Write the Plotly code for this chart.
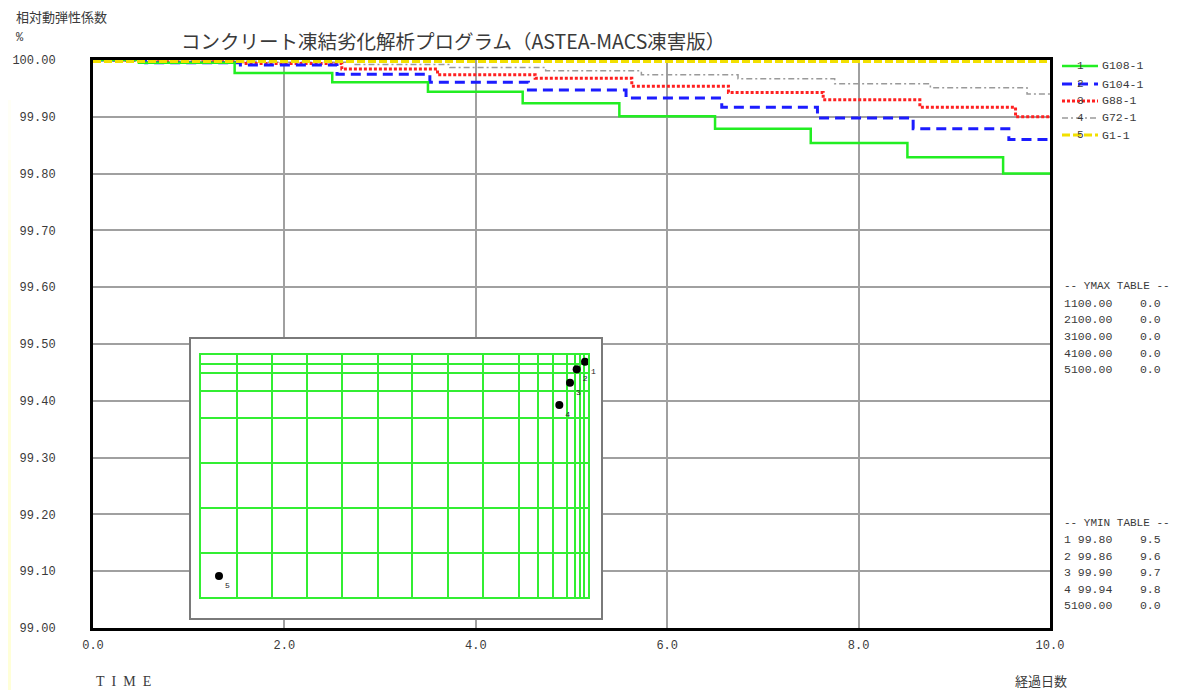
import plotly.graph_objects as go

# ---------------- data ----------------
series_names = ["G108-1", "G104-1", "G88-1", "G72-1", "G1-1"]

x_g108 = [0, 0.48, 1.48, 2.50, 3.50, 4.49, 5.50, 6.50, 7.50, 8.51, 9.51, 10]
y_g108 = [100.0, 99.995, 99.977, 99.961, 99.944, 99.924, 99.901, 99.879, 99.854, 99.829, 99.80, 99.80]

x_g104 = [0, 0.55, 1.54, 2.55, 3.52, 4.55, 5.57, 6.57, 7.57, 8.57, 9.57, 10]
y_g104 = [100.0, 99.995, 99.991, 99.975, 99.961, 99.947, 99.933, 99.917, 99.898, 99.879, 99.86, 99.86]

x_g88 = [0, 0.62, 1.60, 2.60, 3.60, 4.62, 5.63, 6.64, 7.63, 8.64, 9.64, 10]
y_g88 = [100.0, 99.997, 99.994, 99.984, 99.974, 99.968, 99.954, 99.943, 99.930, 99.917, 99.90, 99.90]

x_g72 = [0, 0.73, 1.73, 2.73, 3.73, 4.73, 5.73, 6.74, 7.75, 8.75, 9.76, 10]
y_g72 = [100.0, 99.998, 99.996, 99.992, 99.987, 99.981, 99.974, 99.967, 99.958, 99.951, 99.94, 99.94]

x_g1 = [0, 10]
y_g1 = [100.0, 100.0]

x_ticks = [0, 2, 4, 6, 8, 10]
x_ticktext = ["0.0", "2.0", "4.0", "6.0", "8.0", "10.0"]
y_ticks = [99.0, 99.1, 99.2, 99.3, 99.4, 99.5, 99.6, 99.7, 99.8, 99.9, 100.0]
y_ticktext = ["99.00", "99.10", "99.20", "99.30", "99.40", "99.50", "99.60",
              "99.70", "99.80", "99.90", "100.00"]

ymax_rows = ["1100.00    0.0", "2100.00    0.0", "3100.00    0.0",
             "4100.00    0.0", "5100.00    0.0"]
ymin_rows = ["1 99.80    9.5", "2 99.86    9.6", "3 99.90    9.7",
             "4 99.94    9.8", "5100.00    0.0"]

# inset chart (normalised scale)
inset_xgrid = [0, 0.0929, 0.1847, 0.2735, 0.3653, 0.4582, 0.5459, 0.6372, 0.7276,
               0.8212, 0.8710, 0.9097, 0.9458, 0.9657, 0.9786, 0.9897, 1.0]
inset_ygrid = [0, 0.1796, 0.3657, 0.5519, 0.7381, 0.8511, 0.9243, 0.9615, 1.0]
inset_px = [0.9915, 0.9700, 0.9528, 0.9252, 0.0472]
inset_py = [0.9723, 0.9408, 0.8854, 0.7931, 0.0856]
inset_lbl = ["1", "2", "3", "4", "5"]

# ---------------- layout helpers ----------------
# the page has an 8px body margin, so the figure is placed at (8, 8)
OFF = 8
W, H = 1179 - OFF, 690 - OFF
X0, X1, Y0, Y1 = 93, 1050, 60, 628          # plot area in page pixels
ML, MT = X0 - OFF, Y0 - OFF
MR, MB = 1179 - X1, 690 - Y1
PW, PH = X1 - X0, Y1 - Y0


def px(x):
    return (x - X0) / PW


def py(y):
    return (Y1 - y) / PH


MONO = "Liberation Mono, Noto Sans CJK JP, monospace"
CJK = "Noto Sans CJK JP, sans-serif"
TXT = "#3a3a3a"
TFS = 11

styles = [
    dict(color="#22ee22", width=2.5, dash="solid"),
    dict(color="#1c1cff", width=3, dash="10px,6px"),
    dict(color="#ff2020", width=3, dash="3px,2px"),
    dict(color="#9a9a9a", width=1.5, dash="6px,3px,2px,3px"),
    dict(color="#f2e000", width=6, dash="8px,3px"),
]

fig = go.Figure()

for xs, ys, name, st in [(x_g72, y_g72, series_names[3], styles[3]),
                         (x_g88, y_g88, series_names[2], styles[2]),
                         (x_g104, y_g104, series_names[1], styles[1]),
                         (x_g108, y_g108, series_names[0], styles[0]),
                         (x_g1, y_g1, series_names[4], styles[4])]:
    fig.add_trace(go.Scatter(x=xs, y=ys, mode="lines", line_shape="hv",
                             name=name, line=st, showlegend=False,
                             hoverinfo="skip"))

# outer inset box subplot (empty)
fig.add_trace(go.Scatter(x=[], y=[], xaxis="x2", yaxis="y2", showlegend=False))

# inset points
fig.add_trace(go.Scatter(x=inset_px, y=inset_py, xaxis="x3", yaxis="y3",
                         mode="markers+text", text=inset_lbl,
                         textposition="bottom right",
                         textfont=dict(size=8, color="#222", family=MONO),
                         marker=dict(size=8, color="black"),
                         cliponaxis=False, showlegend=False))

annotations = []
shapes = []

# title
annotations.append(dict(x=px(453), y=py(40), xref="paper", yref="paper",
                        text="コンクリート凍結劣化解析プログラム（ASTEA-MACS凍害版）",
                        showarrow=False, xanchor="center", yanchor="middle",
                        font=dict(family=CJK, size=19.5, color="#3a3a3a")))
# y axis caption
annotations.append(dict(x=px(14), y=py(17), xref="paper", yref="paper",
                        text="相対動弾性係数", showarrow=False,
                        xanchor="left", yanchor="middle",
                        font=dict(family=CJK, size=13, color=TXT)))
annotations.append(dict(x=px(14), y=py(38), xref="paper", yref="paper",
                        text="%", showarrow=False,
                        xanchor="left", yanchor="middle",
                        font=dict(family=MONO, size=12, color=TXT)))
# x captions
annotations.append(dict(x=px(94), y=py(681), xref="paper", yref="paper",
                        text="T&nbsp;&nbsp;I&nbsp;&nbsp;M&nbsp;&nbsp;E", showarrow=False,
                        xanchor="left", yanchor="middle",
                        font=dict(family="Liberation Serif, serif", size=14, color=TXT)))
annotations.append(dict(x=px(1041), y=py(680), xref="paper", yref="paper",
                        text="経過日数", showarrow=False,
                        xanchor="center", yanchor="middle",
                        font=dict(family=CJK, size=13, color=TXT)))

# legend (manual)
leg_y = [66, 84, 101, 118, 135]
for i, (nm, st) in enumerate(zip(series_names, styles)):
    yy = leg_y[i]
    lw = min(st["width"], 3)
    shapes.append(dict(type="line", xref="paper", yref="paper",
                       x0=px(1062), x1=px(1098), y0=py(yy), y1=py(yy),
                       line=dict(color=st["color"], width=lw, dash=st["dash"])))
    annotations.append(dict(x=px(1080), y=py(yy), xref="paper", yref="paper",
                            text=str(i + 1), showarrow=False,
                            xanchor="center", yanchor="middle",
                            font=dict(family=MONO, size=11, color=TXT)))
    annotations.append(dict(x=px(1100), y=py(yy), xref="paper", yref="paper",
                            text=nm, showarrow=False,
                            xanchor="left", yanchor="middle",
                            font=dict(family=MONO, size=11.5, color=TXT)))

# tables
annotations.append(dict(x=px(1062), y=py(286), xref="paper", yref="paper",
                        text="--&nbsp;YMAX&nbsp;TABLE&nbsp;--", showarrow=False,
                        xanchor="left", yanchor="middle",
                        font=dict(family=MONO, size=TFS, color=TXT)))
for i, row in enumerate(ymax_rows):
    annotations.append(dict(x=px(1062), y=py(303 + 16.7 * i), xref="paper", yref="paper",
                            text=row.replace(" ", "&nbsp;"), showarrow=False,
                            xanchor="left", yanchor="middle",
                            font=dict(family=MONO, size=TFS + 0.5, color=TXT)))
annotations.append(dict(x=px(1062), y=py(523), xref="paper", yref="paper",
                        text="--&nbsp;YMIN&nbsp;TABLE&nbsp;--", showarrow=False,
                        xanchor="left", yanchor="middle",
                        font=dict(family=MONO, size=TFS, color=TXT)))
for i, row in enumerate(ymin_rows):
    annotations.append(dict(x=px(1062), y=py(539.5 + 16.6 * i), xref="paper", yref="paper",
                            text=row.replace(" ", "&nbsp;"), showarrow=False,
                            xanchor="left", yanchor="middle",
                            font=dict(family=MONO, size=TFS + 0.5, color=TXT)))

# left pale-yellow strip (gradient approximation, visible part inside the figure)
for (y0, y1, c) in [(100, 160, "#fffff6"), (160, 230, "#ffffec"),
                    (230, 300, "#ffffe2"), (300, 690, "#ffffd8")]:
    shapes.append(dict(type="rect", xref="paper", yref="paper", layer="below",
                       x0=px(OFF), x1=px(11), y0=py(y1), y1=py(y0),
                       fillcolor=c, line=dict(width=0)))

fig.update_layout(
    width=W, height=H,
    margin=dict(l=ML, r=MR, t=MT, b=MB, pad=0, autoexpand=False),
    paper_bgcolor="white", plot_bgcolor="white",
    showlegend=False,
    annotations=annotations,
    shapes=shapes,
    xaxis=dict(range=[0, 10], tickvals=x_ticks, ticktext=x_ticktext,
               showgrid=True, gridcolor="#a0a0a0", gridwidth=1.5,
               showline=True, linecolor="black", linewidth=3, mirror=True,
               zeroline=False, ticks="", ticklabelstandoff=4, automargin=False,
               tickfont=dict(family=MONO, size=12, color=TXT)),
    yaxis=dict(range=[99.0, 100.0], tickvals=y_ticks, ticktext=y_ticktext,
               showgrid=True, gridcolor="#a0a0a0", gridwidth=1.5,
               showline=True, linecolor="black", linewidth=3, mirror=True,
               zeroline=False, ticks="", ticklabelstandoff=32, automargin=False,
               tickfont=dict(family=MONO, size=12, color=TXT)),
    xaxis2=dict(domain=[px(191), px(601)], anchor="y2", range=[0, 1], automargin=False,
                showgrid=False, zeroline=False, showticklabels=False, ticks="",
                showline=True, mirror=True, linecolor="#7a7a7a", linewidth=2),
    yaxis2=dict(domain=[py(618), py(339)], anchor="x2", range=[0, 1], automargin=False,
                showgrid=False, zeroline=False, showticklabels=False, ticks="",
                showline=True, mirror=True, linecolor="#7a7a7a", linewidth=2),
    xaxis3=dict(domain=[px(200.7), px(588.3)], anchor="y3", range=[0, 1], automargin=False,
                tickvals=inset_xgrid, showgrid=True, gridcolor="#33ee33", gridwidth=1.5,
                zeroline=False, showticklabels=False, ticks="",
                showline=True, mirror=True, linecolor="#33ee33", linewidth=1.5),
    yaxis3=dict(domain=[py(596.7), py(355)], anchor="x3", range=[0, 1], automargin=False,
                tickvals=inset_ygrid, showgrid=True, gridcolor="#33ee33", gridwidth=1.5,
                zeroline=False, showticklabels=False, ticks="",
                showline=True, mirror=True, linecolor="#33ee33", linewidth=1.5),
)

fig.write_html("out.html")
